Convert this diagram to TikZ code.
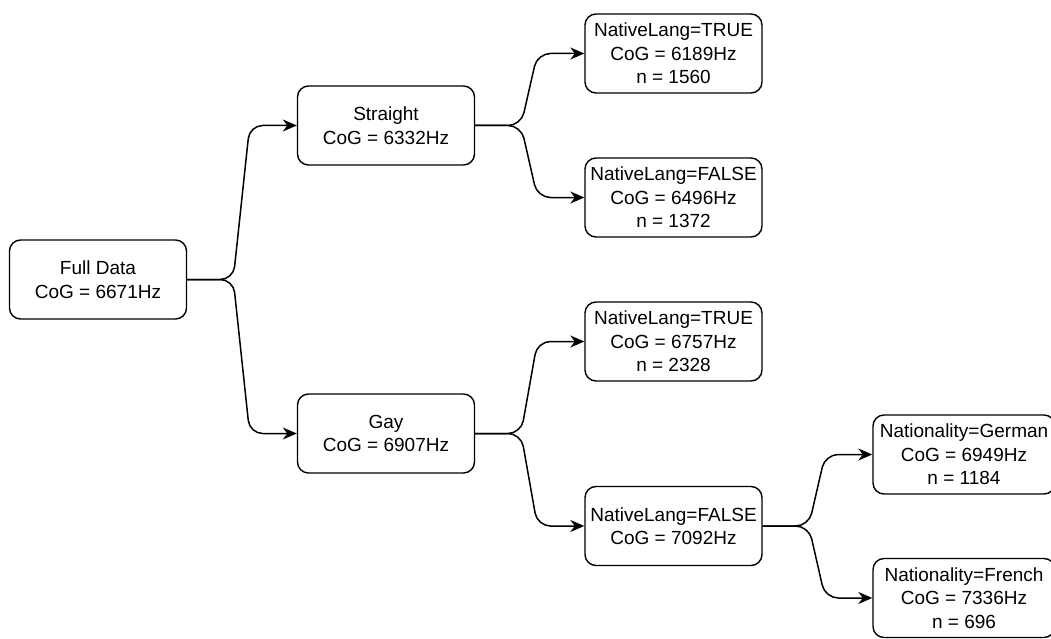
\documentclass[tikz,border=0pt]{standalone}
\usepackage{fontspec}
\setmainfont{Liberation Sans}
\usetikzlibrary{arrows.meta,calc}
\begin{document}
\begin{tikzpicture}[x=1pt,y=-1pt,
  box/.style={draw, line width=1.4pt, rounded corners=11pt, minimum width=177pt, minimum height=79pt,
    inner sep=0pt, align=center, font=\fontsize{19}{23.5}\selectfont},
  wbox/.style={box, minimum width=182pt},
  conn/.style={draw, line width=1.5pt, rounded corners=13pt, -{Stealth[length=14pt,width=12pt,inset=4.5pt]}},
  link/.style args={#1 to #2}{insert path={(#1.east) -- ($(#1.east)!0.42!(#1.east -| #2.west)$) -- ($(#2.west)!0.43!(#2.west -| #1.east)$) -- (#2.west)}}]
\useasboundingbox (0,0) rectangle (1051,639);
\clip (0,0) rectangle (1051,639);
\node[box] (full) at (98,279.5) {Full Data\\CoG = 6671Hz};
\node[box] (str) at (386,125.5) {Straight\\CoG = 6332Hz};
\node[box] (gay) at (386,433.5) {Gay\\CoG = 6907Hz};
\node[box] (t1) at (673.5,53.5) {NativeLang=TRUE\\CoG = 6189Hz\\n = 1560};
\node[box] (f1) at (673.5,197.5) {NativeLang=FALSE\\CoG = 6496Hz\\n = 1372};
\node[box] (t2) at (673.5,341.5) {NativeLang=TRUE\\CoG = 6757Hz\\n = 2328};
\node[box] (f2) at (673.5,526) {NativeLang=FALSE\\CoG = 7092Hz};
\node[wbox] (ger) at (964,454.5) {Nationality=German\\CoG = 6949Hz\\n = 1184};
\node[wbox] (fre) at (964,598) {Nationality=French\\CoG = 7336Hz\\n = 696};
\draw[conn, link=full to str];
\draw[conn, link=full to gay];
\draw[conn, link=str to t1];
\draw[conn, link=str to f1];
\draw[conn, link=gay to t2];
\draw[conn, link=gay to f2];
\draw[conn, link=f2 to ger];
\draw[conn, link=f2 to fre];
\end{tikzpicture}
\end{document}
